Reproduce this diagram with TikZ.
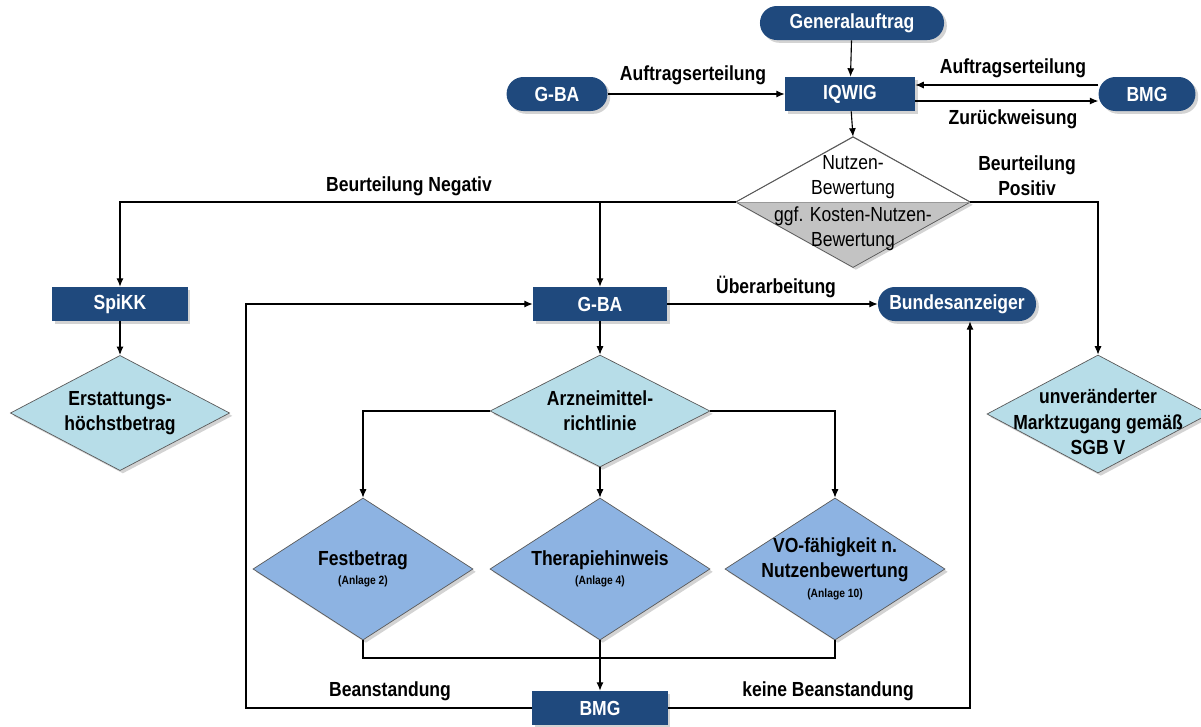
\documentclass[tikz,border=0pt]{standalone}
\usepackage{fontspec}
\setmainfont{Liberation Sans}[FakeStretch=0.86]
\usetikzlibrary{shapes.geometric,shadows,arrows.meta,calc}

\definecolor{dkblue}{RGB}{31,73,125}
\definecolor{ltcyan}{RGB}{183,221,232}
\definecolor{midblue}{RGB}{141,179,226}
\definecolor{ltgrey}{RGB}{195,195,195}

\tikzset{
  shade/.style={drop shadow={opacity=0.35,shadow xshift=2pt,shadow yshift=-2pt}},
  box/.style={rectangle,fill=dkblue,text=white,minimum height=0.85cm,inner sep=0pt,shade},
  pill/.style={box,rounded corners=0.42cm},
  dia/.style={diamond,draw=black!65,line width=0.5pt,aspect=1.9,inner sep=0pt,shade},
  dtext/.style={align=center,inner sep=0pt},
  arr/.style={-{Latex[length=6pt,width=5pt]},line width=0.8pt},
  con/.style={line width=0.8pt}
}
\newcommand{\anl}[1]{{\fontsize{8.5}{9}\selectfont(Anlage #1)}}

\begin{document}
\begin{tikzpicture}[x=0.025cm,y=-0.025cm,font=\fontsize{14.5}{18}\selectfont\bfseries]
  \useasboundingbox (0,0) rectangle (1201,726);

  % top row
  \node[pill,minimum width=4.6cm] (gen) at (852,23) {Generalauftrag};
  \node[box,minimum width=3.25cm] (iqwig) at (850,94) {IQWIG};
  \node[pill,minimum width=2.52cm] (gbatop) at (557,94) {G-BA};
  \node[pill,minimum width=2.42cm] (bmgtop) at (1147,94) {BMG};

  % Nutzenbewertung
  \node[dia,fill=white,minimum width=5.85cm,minimum height=3.25cm] (nb) at (853,202) {};
  \fill[ltgrey] (nb.west) -- (nb.east) -- (nb.south) -- cycle;
  \draw[black!65,line width=0.5pt] (nb.north) -- (nb.east) -- (nb.south) -- (nb.west) -- cycle;
  \draw[black!40,line width=0.5pt] (nb.west) -- (nb.east);
  \node[dtext,font=\fontsize{14.5}{18}\selectfont\mdseries] (nbtop) at (853,177) {Nutzen-\\Bewertung};
  \node[dtext,font=\fontsize{14.5}{18}\selectfont\mdseries] (nbbot) at (853,229) {ggf. Kosten-Nutzen-\\Bewertung};

  % second row
  \node[box,minimum width=3.38cm] (spikk) at (120,304) {SpiKK};
  \node[box,minimum width=3.35cm] (gba) at (600,304) {G-BA};
  \node[pill,minimum width=3.95cm] (bund) at (957,304) {Bundesanzeiger};

  \node[dia,fill=ltcyan,minimum width=5.48cm,minimum height=2.88cm,
    label={[dtext]center:Erstattungs-\\höchstbetrag}] (erst) at (120,413) {};
  \node[dia,fill=ltcyan,minimum width=5.5cm,minimum height=2.8cm,
    label={[dtext]center:Arzneimittel-\\richtlinie}] (arz) at (600,411) {};
  \node[dia,fill=ltcyan,minimum width=5.55cm,minimum height=2.95cm,
    label={[dtext,yshift=-0.2cm]center:unveränderter\\Marktzugang gemäß\\SGB V}] (markt) at (1098,414) {};

  % Anlagen
  \node[dia,fill=midblue,minimum width=5.5cm,minimum height=3.55cm,
    label={[dtext]center:Festbetrag\\[-4pt]\anl{2}}] (fest) at (363,569) {};
  \node[dia,fill=midblue,minimum width=5.5cm,minimum height=3.55cm,
    label={[dtext]center:Therapiehinweis\\[-4pt]\anl{4}}] (ther) at (600,569) {};
  \node[dia,fill=midblue,minimum width=5.5cm,minimum height=3.55cm,
    label={[dtext]center:VO-fähigkeit n.\\Nutzenbewertung\\[-4pt]\anl{10}}] (vo) at (835,569) {};

  \node[box,minimum width=3.38cm] (bmg) at (600,708) {BMG};

  \coordinate (join) at (600,658);
  \coordinate (loopL) at (246,708);
  \coordinate (loopR) at (970,708);

  % connectors
  \draw[arr] (gen) -- (iqwig);
  \draw[arr] (gbatop) -- (iqwig);
  \draw[arr] ($(bmgtop.west)+(0,-9)$) -- ($(iqwig.east)+(0,-9)$);
  \draw[arr] ($(iqwig.east)+(0,7)$) -- ($(bmgtop.west)+(0,7)$);
  \draw[arr] (iqwig) -- (nb.north);
  \draw[arr] (nb.west) -| (spikk.north);
  \draw[arr] (gba |- nb.west) -- (gba);
  \draw[arr] (nb.east) -| (markt.north);
  \draw[arr] (spikk) -- (erst.north);
  \draw[arr] (gba) -- (bund);
  \draw[arr] (gba) -- (arz.north);
  \draw[arr] (arz.west) -| (fest.north);
  \draw[arr] (arz.south) -- (ther.north);
  \draw[arr] (arz.east) -| (vo.north);
  \draw[con] (fest.south) |- (join) -| (vo.south);
  \draw[arr] (ther.south) -- (bmg.north);
  \draw[arr] (bmg.west) -- (loopL) |- (gba.west);
  \draw[arr] (bmg.east) -- (loopR) -- (loopR |- bund.south);

  % labels
  \node[] (l1) at (693,75) {Auftragserteilung};
  \node[] (l2) at (1013,68) {Auftragserteilung};
  \node[] (l3) at (1013,119) {Zurückweisung};
  \node[] (l4) at (409,186) {Beurteilung Negativ};
  \node[align=center] (l5) at (1027,176) {Beurteilung\\Positiv};
  \node[] (l6) at (776,287) {Überarbeitung};
  \node[] (l7) at (390,691) {Beanstandung};
  \node[] (l8) at (828,691) {keine Beanstandung};
\end{tikzpicture}
\end{document}
